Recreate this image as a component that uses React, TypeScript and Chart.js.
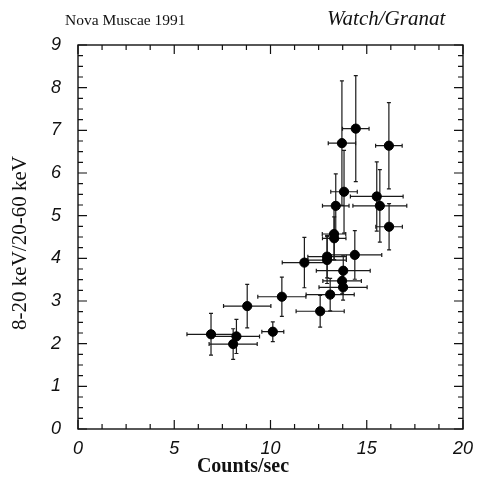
import React, { useEffect, useRef } from "react";
import { Chart, registerables } from "chart.js";

Chart.register(...registerables);

// Counts/sec (x) and hardness ratio 8-20 keV / 20-60 keV (y), with symmetric errors
const countsX = [6.91, 8.23, 8.06, 8.79, 10.12, 10.59, 12.58, 13.1, 13.77, 13.72, 13.78, 11.76, 12.94, 12.94, 14.38, 13.3, 13.31, 16.16, 13.39, 15.68, 15.52, 13.82, 13.71, 14.43, 16.15];
const ratioY = [2.22, 2.17, 1.99, 2.88, 2.28, 3.1, 2.76, 3.15, 3.32, 3.47, 3.71, 3.9, 4.04, 3.96, 4.08, 4.57, 4.47, 4.74, 5.23, 5.23, 5.45, 5.56, 6.7, 7.04, 6.64];
const countsErr = [1.25, 1.2, 1.25, 1.23, 0.57, 1.25, 1.25, 1.25, 1.25, 1.0, 1.4, 1.15, 1.0, 1.0, 1.4, 0.61, 0.61, 0.69, 0.69, 1.4, 1.37, 0.69, 0.71, 0.69, 0.69];
const ratioErr = [0.49, 0.4, 0.36, 0.51, 0.23, 0.46, 0.37, 0.38, 0.3, 0.3, 0.35, 0.59, 0.5, 0.55, 0.57, 0.6, 0.5, 0.54, 0.75, 0.85, 0.81, 0.97, 1.46, 1.24, 1.01];

const xTicks = [0, 5, 10, 15, 20];
const yTicks = [0, 1, 2, 3, 4, 5, 6, 7, 8, 9];

const titleLeft = "Nova Muscae 1991";
const titleRight = "Watch/Granat";
const xTitle = "Counts/sec";
const yTitle = "8-20 keV/20-60 keV";

const tickFont = { family: "'Liberation Sans'", size: 18, style: "italic" as const };

const framePlugin = {
  id: "framePlugin",
  beforeDatasetsDraw(chart: any) {
    const ctx = chart.ctx;
    const xs = chart.scales.x;
    const ys = chart.scales.y;
    ctx.save();
    ctx.strokeStyle = "#1a1a1a";
    ctx.lineWidth = 1.2;
    const cap = 2;
    for (let i = 0; i < countsX.length; i++) {
      const x = xs.getPixelForValue(countsX[i]);
      const y = ys.getPixelForValue(ratioY[i]);
      const x0 = xs.getPixelForValue(countsX[i] - countsErr[i]);
      const x1 = xs.getPixelForValue(countsX[i] + countsErr[i]);
      const y0 = ys.getPixelForValue(ratioY[i] - ratioErr[i]);
      const y1 = ys.getPixelForValue(ratioY[i] + ratioErr[i]);
      ctx.beginPath();
      ctx.moveTo(x0, y);
      ctx.lineTo(x1, y);
      ctx.moveTo(x0, y - cap);
      ctx.lineTo(x0, y + cap);
      ctx.moveTo(x1, y - cap);
      ctx.lineTo(x1, y + cap);
      ctx.moveTo(x, y0);
      ctx.lineTo(x, y1);
      ctx.moveTo(x - cap, y0);
      ctx.lineTo(x + cap, y0);
      ctx.moveTo(x - cap, y1);
      ctx.lineTo(x + cap, y1);
      ctx.stroke();
    }
    ctx.restore();
  },
  afterDraw(chart: any) {
    const ctx = chart.ctx;
    const xs = chart.scales.x;
    const ys = chart.scales.y;
    const a = chart.chartArea;
    ctx.save();
    ctx.strokeStyle = "#111";
    ctx.lineWidth = 1.4;
    ctx.strokeRect(a.left, a.top, a.right - a.left, a.bottom - a.top);
    ctx.lineWidth = 1.2;
    ctx.beginPath();
    for (let v = 0; v <= 20.001; v += 1.25) {
      const px = xs.getPixelForValue(v);
      const major = Math.abs(v % 5) < 0.001;
      const len = major ? 9 : 5;
      ctx.moveTo(px, a.bottom);
      ctx.lineTo(px, a.bottom - len);
      ctx.moveTo(px, a.top);
      ctx.lineTo(px, a.top + len);
    }
    for (let v = 0; v <= 9.001; v += 0.25) {
      const py = ys.getPixelForValue(v);
      const major = Math.abs(v - Math.round(v)) < 0.001;
      const len = major ? 9 : 5;
      ctx.moveTo(a.left, py);
      ctx.lineTo(a.left + len, py);
      ctx.moveTo(a.right, py);
      ctx.lineTo(a.right - len, py);
    }
    ctx.stroke();

    ctx.fillStyle = "#111";
    ctx.textBaseline = "alphabetic";
    ctx.textAlign = "left";
    ctx.font = "15.5px 'Liberation Serif'";
    ctx.fillText(titleLeft, 65, 25);
    ctx.font = "italic 21px 'Liberation Serif'";
    ctx.fillText(titleRight, 327, 25);

    ctx.textAlign = "center";
    ctx.font = "bold 20px 'Liberation Serif'";
    ctx.fillText(xTitle, 243, 472);

    ctx.save();
    ctx.translate(26, 243);
    ctx.rotate(-Math.PI / 2);
    ctx.font = "21px 'Liberation Serif'";
    ctx.fillText(yTitle, 0, 0);
    ctx.restore();
    ctx.restore();
  },
};

export default function App() {
  const ref = useRef<HTMLCanvasElement>(null);
  useEffect(() => {
    if (!ref.current) return;
    const chart = new Chart(ref.current, {
      type: "scatter",
      data: {
        datasets: [
          {
            data: countsX.map((x, i) => ({ x, y: ratioY[i] })),
            backgroundColor: "#000",
            borderColor: "#000",
            pointRadius: 4.6,
            pointHoverRadius: 4.6,
          },
        ],
      },
      options: {
        animation: false,
        responsive: false,
        maintainAspectRatio: false,
        events: [],
        layout: { padding: { left: 0, right: 14, top: 45, bottom: 0 } },
        plugins: { legend: { display: false }, tooltip: { enabled: false }, title: { display: false } },
        scales: {
          x: {
            type: "linear",
            min: 0,
            max: 20,
            afterBuildTicks: (s: any) => {
              s.ticks = xTicks.map((v) => ({ value: v }));
            },
            afterFit: (s: any) => {
              s.height = 50;
            },
            grid: { display: false },
            border: { display: false },
            ticks: {
              color: "#111",
              font: tickFont,
              padding: 1,
              maxRotation: 0,
            },
          },
          y: {
            type: "linear",
            min: 0,
            max: 9,
            afterBuildTicks: (s: any) => {
              s.ticks = yTicks.map((v) => ({ value: v }));
            },
            afterFit: (s: any) => {
              s.width = 78;
            },
            grid: { display: false },
            border: { display: false },
            ticks: {
              color: "#111",
              font: tickFont,
              padding: 9,
            },
          },
        },
      },
      plugins: [framePlugin],
    });
    return () => chart.destroy();
  }, []);
  return (
    <div style={{ position: "fixed", left: 0, top: 0, width: 477, height: 479, background: "#fff" }}>
      <canvas ref={ref} width={477} height={479} style={{ display: "block" }} />
    </div>
  );
}
